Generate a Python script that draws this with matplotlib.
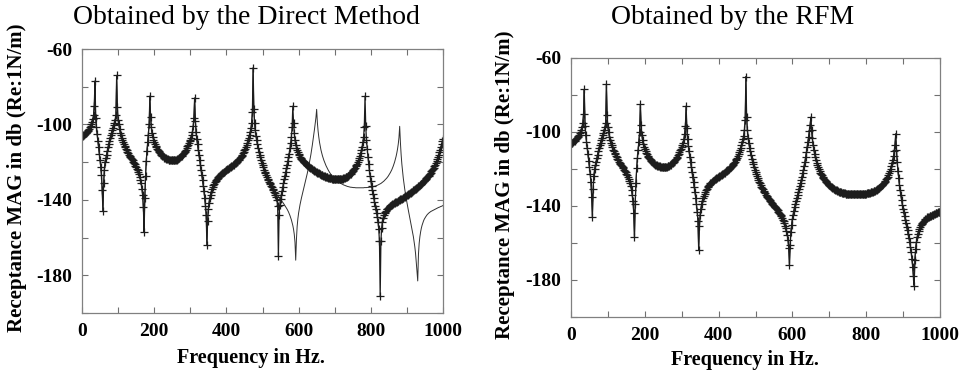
import matplotlib
matplotlib.use("Agg")
import numpy as np
import matplotlib.pyplot as plt
from matplotlib.ticker import MultipleLocator, FixedLocator

plt.rcParams['font.family'] = ['Liberation Serif', 'DejaVu Serif']
plt.rcParams['axes.unicode_minus'] = False

# ---------------- data (2 Hz sampling) ----------------
freq_step_hz = 2
freq = np.arange(0, 1001, freq_step_hz)

# 0 - 528 Hz: identical for both methods
common_db = [
    -106.0, -105.9, -105.7, -105.4, -105.1, -104.7, -104.3, -103.9, -103.4, -102.9,
    -102.3, -101.6, -100.8, -99.9, -98.7, -97.3, -95.2, -90, -77, -96.5,
    -101.5, -105.3, -108.7, -112, -115.5, -119, -122.5, -127, -135, -146,
    -131, -124, -120, -118, -116, -114, -112.2, -110.4, -108.7, -107.2,
    -105.8, -104.3, -103, -101.7, -100.5, -99, -97.5, -95, -74, -91,
    -97.5, -100, -102.5, -104.3, -105.8, -107.2, -108.3, -109.5, -110.4, -111.2,
    -112, -112.8, -113.6, -114.4, -115.2, -116, -116.6, -117.2, -117.8, -118.4,
    -119, -119.7, -120.4, -121.1, -121.8, -122.6, -123.4, -124.3, -125.3, -126.4,
    -127.7, -129.3, -131.3, -134, -137.5, -144, -157, -139, -127.5, -119.5,
    -114, -109.5, -105.5, -100, -85, -96, -101.5, -104.5, -106.5, -108,
    -109.3, -110.3, -111.2, -112, -112.8, -113.5, -114.1, -114.7, -115.3, -115.8,
    -116.2, -116.6, -117, -117.3, -117.6, -117.8, -118, -118.2, -118.4, -118.5,
    -118.6, -118.7, -118.8, -118.8, -118.9, -118.9, -118.9, -118.9, -118.9, -118.8,
    -118.7, -118.6, -118.4, -118.2, -117.9, -117.6, -117.3, -117, -116.6, -116.1,
    -115.7, -115.2, -114.6, -114, -113.3, -112.5, -111.7, -110.9, -110, -109,
    -108, -107, -105.7, -103.8, -101, -96.5, -86, -98, -104, -107.8,
    -110.5, -113.5, -116.3, -119, -121.7, -124.3, -127, -129.7, -132.5, -135.5,
    -139, -143, -148, -164, -151, -145, -141.5, -139, -137.2, -135.7,
    -134.4, -133.3, -132.3, -131.4, -130.6, -129.9, -129.3, -128.8, -128.3, -127.8,
    -127.4, -127, -126.6, -126.3, -125.9, -125.6, -125.3, -125, -124.7, -124.4,
    -124.1, -123.9, -123.6, -123.3, -123.1, -122.8, -122.5, -122.2, -121.9, -121.6,
    -121.3, -121, -120.6, -120.3, -119.9, -119.5, -119.1, -118.7, -118.2, -117.7,
    -117.2, -116.6, -116, -115.3, -114.6, -113.8, -113, -112, -111, -109.8,
    -108.5, -107, -105.5, -104, -102, -99, -93.5, -70, -92, -99,
    -103, -106, -108.5, -110.5, -112.7, -114.5, -116, -117.5, -119, -120.4,
    -121.6, -122.8, -124, -125, -126, -126.9, -127.8, -128.7, -129.5, -130.3,
    -131, -131.8, -132.5, -133.2, -134,
]

# 530 - 1000 Hz: direct method
direct_tail_db = [
    -134.8, -135.6, -136.5, -137.5, -138.7, -140.3, -143.5, -170, -148, -142.5,
    -139.5, -137.3, -135.2, -133.2, -131.2, -129.2, -127.2, -125.2, -123.2, -121.3,
    -119.5, -117.5, -115.6, -112.5, -109.7, -106.5, -101.5, -90.3, -99, -104.5,
    -108.5, -110.7, -112.3, -113.6, -114.7, -115.6, -116.4, -117.1, -117.7, -118.3,
    -118.8, -119.3, -119.7, -120.1, -120.5, -120.9, -121.3, -121.7, -122, -122.4,
    -122.7, -123, -123.3, -123.6, -123.9, -124.2, -124.4, -124.7, -124.9, -125.2,
    -125.4, -125.6, -125.8, -126, -126.2, -126.4, -126.6, -126.8, -127, -127.2,
    -127.4, -127.5, -127.7, -127.8, -128, -128.1, -128.2, -128.3, -128.4, -128.5,
    -128.6, -128.7, -128.8, -128.8, -128.9, -128.9, -129, -129, -129, -129,
    -129, -129, -129, -128.9, -128.9, -128.8, -128.7, -128.6, -128.5, -128.3,
    -128.1, -127.9, -127.7, -127.4, -127.1, -126.8, -126.5, -126.1, -125.7, -125.2,
    -124.7, -124.2, -123.6, -123, -122.3, -121.6, -120.8, -119.9, -118.9, -117.8,
    -116.6, -115.2, -113.6, -111.8, -109.5, -106.5, -101.5, -85, -101, -108,
    -113, -117.3, -121, -124.3, -127.3, -130, -132.5, -134.8, -137, -139,
    -141, -143, -145, -147, -149.3, -152, -155.5, -162, -191, -162,
    -155, -151.5, -149.5, -148.2, -147.2, -146.4, -145.7, -145.1, -144.6, -144.2,
    -143.8, -143.5, -143.2, -142.9, -142.6, -142.3, -142.1, -141.8, -141.6, -141.3,
    -141.1, -140.9, -140.6, -140.4, -140.2, -140, -139.7, -139.5, -139.3, -139.1,
    -138.8, -138.6, -138.3, -138.1, -137.8, -137.6, -137.3, -137.1, -136.8, -136.5,
    -136.2, -135.9, -135.6, -135.3, -135, -134.7, -134.4, -134.1, -133.8, -133.5,
    -133.1, -132.8, -132.4, -132, -131.7,
    -131.4, -131, -130.6, -130.2, -129.8, -129.4, -129, -128.6, -128.1, -127.6,
    -127.1, -126.6, -126.1, -125.5, -124.9, -124.3, -123.6, -122.9, -122.1, -121.3,
    -120.4, -119.4, -118.4, -117.3, -116.1, -114.8, -113.4, -111.9, -110.4, -109,
    -107.5,
]

# 530 - 1000 Hz: exact / RFM result
exact_tail_db = [
    -134.8, -135.3, -135.8, -136.3, -136.8, -137.3, -137.8, -138.3, -138.8, -139.3,
    -139.8, -140.3, -140.8, -141.3, -141.8, -142.4, -143, -143.6, -144.2, -144.9,
    -145.6, -146.4, -147.3, -148.3, -149.4, -150.6, -152, -153.6, -155.6, -158.3,
    -162.5, -172, -161, -154, -150, -147, -144.6, -142.5, -140.6, -138.9,
    -137.3, -135.7, -134.2, -132.6, -131, -129.4, -127.7, -126, -124.2, -122.3,
    -120.3, -118.2, -116, -113.6, -111, -108.3, -105.5, -102.6, -99.6, -96.4,
    -92, -99, -103.5, -106.8, -109.5, -111.7, -113.6, -115.2, -116.6, -117.9,
    -119, -120, -121, -121.9, -122.7, -123.5, -124.2, -124.9, -125.5, -126.1,
    -126.6, -127.1, -127.6, -128, -128.4, -128.8, -129.2, -129.5, -129.8, -130.1,
    -130.4, -130.7, -130.9, -131.2, -131.4, -131.6, -131.8, -132, -132.2, -132.3,
    -132.5, -132.6, -132.8, -132.9, -133, -133.1, -133.2, -133.3, -133.3, -133.4,
    -133.4, -133.5, -133.5, -133.5, -133.6, -133.6, -133.6, -133.6, -133.6, -133.6,
    -133.6, -133.6, -133.6, -133.6, -133.6, -133.6, -133.5, -133.5, -133.5, -133.5,
    -133.4, -133.4, -133.4, -133.3, -133.3, -133.3, -133.2, -133.1, -133, -132.9,
    -132.8, -132.7, -132.6, -132.4, -132.3, -132.1, -131.9, -131.7, -131.5, -131.3,
    -131, -130.7, -130.4, -130.1, -129.7, -129.3, -128.9, -128.5, -128, -127.5,
    -126.9, -126.3, -125.6, -124.9, -124.1, -123.2, -122.2, -121.1, -119.9, -118.5,
    -117, -115.2, -113.1, -110.5, -107, -101, -109.5, -116, -121, -125,
    -128.5, -131.5, -134.3, -136.8, -139.2, -141.4, -143.5, -145.5, -147.5, -149.4,
    -151.3, -153.2, -155.2, -157.3, -159.6, -162.2, -165, -168.5, -173, -178,
    -183, -169, -163, -159.5, -157, -155, -153.5, -152.3, -151.2, -150.3,
    -149.6, -149, -148.4, -147.9, -147.5, -147.1, -146.8, -146.5, -146.2, -146,
    -145.8, -145.6, -145.4, -145.2, -145, -144.8, -144.6, -144.4, -144.2, -144,
    -143.9, -143.7, -143.5, -143.4, -143.2,
    -143,
]

direct_db = common_db + direct_tail_db
exact_db = common_db + exact_tail_db
rfm_db = exact_db

for name, arr in (("direct", direct_db), ("exact", exact_db)):
    if len(arr) != len(freq):
        raise SystemExit(f"{name}: {len(arr)} values vs {len(freq)} freqs "
                         f"(common {len(common_db)})")

titles = ["Obtained by the Direct Method", "Obtained by the RFM"]
xlabel = "Frequency in Hz."
ylabel = "Receptance MAG in db (Re:1N/m)"
xticks_lab = [0, 200, 400, 600, 800, 1000]
yticks_lab = [-60, -100, -140, -180]

# ---------------- figure ----------------
fig = plt.figure(figsize=(9.68, 3.74), dpi=100)
ax1 = fig.add_axes([82/968, 61/374, 361/968, 264/374])
ax2 = fig.add_axes([571/968, 57/374, 369/968, 259/374])

mk = dict(marker='+', markersize=6.0, markeredgewidth=0.9, color='#1c1c1c', linewidth=0.9)

ax1.plot(freq, exact_db, color='#303030', linewidth=0.7)
ax1.plot(freq, direct_db, **mk)

ax2.plot(freq, exact_db, color='#303030', linewidth=0.7)
ax2.plot(freq, rfm_db, **mk)

for ax in (ax1, ax2):
    ax.set_xlim(0, 1000)
    ax.set_ylim(-200, -60)
    ax.xaxis.set_major_locator(FixedLocator(xticks_lab))
    ax.xaxis.set_minor_locator(MultipleLocator(100))
    ax.yaxis.set_major_locator(FixedLocator(yticks_lab))
    ax.yaxis.set_minor_locator(MultipleLocator(20))
    ax.tick_params(which='both', direction='in', top=True, right=True, length=4,
                   width=0.8, color='#707070')
    ax.tick_params(which='major', labelsize=14, pad=7)
    for lab in ax.get_xticklabels() + ax.get_yticklabels():
        lab.set_fontweight('bold')
    for s in ax.spines.values():
        s.set_color('#808080')
        s.set_linewidth(0.9)

fig.text(246/968, 1 - 17/374, titles[0], ha='center', va='center', fontsize=20)
fig.text(733/968, 1 - 18/374, titles[1], ha='center', va='center', fontsize=20)
fig.text(251/968, 1 - 358/374, xlabel, ha='center', va='center', fontsize=14.5, fontweight='bold')
fig.text(745/968, 1 - 360/374, xlabel, ha='center', va='center', fontsize=14.5, fontweight='bold')
fig.text(17/968, 1 - 178/374, ylabel, ha='center', va='center', rotation=90, fontsize=15,
         fontweight='bold')
fig.text(505/968, 1 - 185/374, ylabel, ha='center', va='center', rotation=90, fontsize=15,
         fontweight='bold')

fig.savefig("out.png", dpi=100)
